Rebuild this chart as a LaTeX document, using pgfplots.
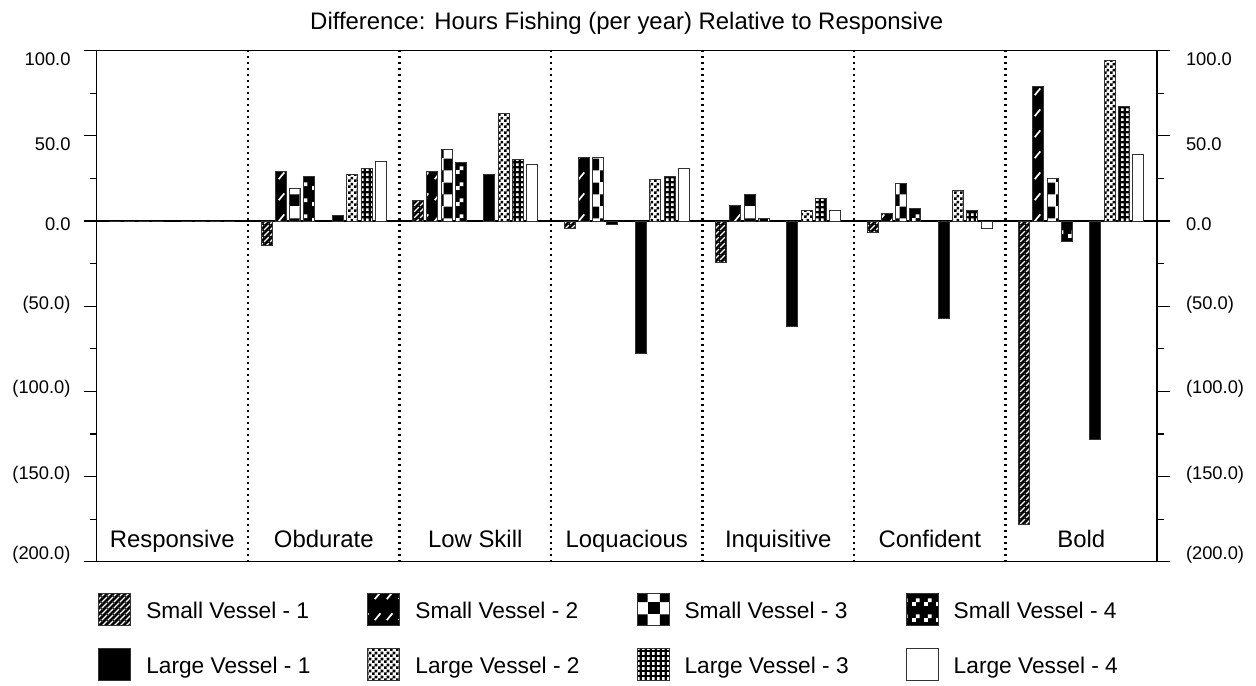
\documentclass[border=0pt]{standalone}
\usepackage{fontspec}
\setmainfont{Liberation Sans}
\usepackage{pgfplots}
\pgfplotsset{compat=1.18}
\usetikzlibrary{patterns}

\pgfdeclarepatternformonly{svone}{\pgfqpoint{0bp}{0bp}}{\pgfqpoint{3bp}{3bp}}{\pgfqpoint{3bp}{3bp}}{%
  \pgfpathmoveto{\pgfqpoint{0bp}{0bp}}\pgfpathlineto{\pgfqpoint{0.45bp}{0bp}}\pgfpathlineto{\pgfqpoint{3bp}{2.55bp}}%
  \pgfpathlineto{\pgfqpoint{3bp}{3bp}}\pgfpathlineto{\pgfqpoint{2.55bp}{3bp}}\pgfpathlineto{\pgfqpoint{0bp}{0.45bp}}\pgfpathclose
  \pgfpathmoveto{\pgfqpoint{2.55bp}{0bp}}\pgfpathlineto{\pgfqpoint{3bp}{0bp}}\pgfpathlineto{\pgfqpoint{3bp}{0.45bp}}\pgfpathclose
  \pgfpathmoveto{\pgfqpoint{0bp}{2.55bp}}\pgfpathlineto{\pgfqpoint{0bp}{3bp}}\pgfpathlineto{\pgfqpoint{0.45bp}{3bp}}\pgfpathclose
  \pgfusepath{fill}}
\pgfdeclarepatternformonly{svtwo}{\pgfqpoint{0bp}{0bp}}{\pgfqpoint{6bp}{10.5bp}}{\pgfqpoint{6bp}{10.5bp}}{\pgfsetlinewidth{0.9bp}\pgfpathmoveto{\pgfqpoint{1.5bp}{1.5bp}}\pgfpathlineto{\pgfqpoint{4.5bp}{5bp}}\pgfusepath{stroke}}
\pgfdeclarepatternformonly{svthree}{\pgfqpoint{0bp}{0bp}}{\pgfqpoint{12bp}{12bp}}{\pgfqpoint{12bp}{12bp}}{\pgfpathrectangle{\pgfqpoint{0bp}{0bp}}{\pgfqpoint{6bp}{6bp}}\pgfpathrectangle{\pgfqpoint{6bp}{6bp}}{\pgfqpoint{6bp}{6bp}}\pgfusepath{fill}}
\pgfdeclarepatternformonly{svfour}{\pgfqpoint{0bp}{0bp}}{\pgfqpoint{6bp}{8bp}}{\pgfqpoint{6bp}{8bp}}{\pgfpathrectangle{\pgfqpoint{0bp}{0bp}}{\pgfqpoint{2bp}{2bp}}\pgfpathrectangle{\pgfqpoint{2bp}{2bp}}{\pgfqpoint{2bp}{2bp}}\pgfusepath{fill}}
\pgfdeclarepatternformonly{lvtwo}{\pgfqpoint{0bp}{0bp}}{\pgfqpoint{3bp}{3bp}}{\pgfqpoint{3bp}{3bp}}{\pgfpathrectangle{\pgfqpoint{0bp}{0bp}}{\pgfqpoint{1.5bp}{1.5bp}}\pgfpathrectangle{\pgfqpoint{1.5bp}{1.5bp}}{\pgfqpoint{1.5bp}{1.5bp}}\pgfusepath{fill}}
\pgfdeclarepatternformonly{lvthree}{\pgfqpoint{0bp}{0bp}}{\pgfqpoint{2.7bp}{2.7bp}}{\pgfqpoint{2.7bp}{2.7bp}}{\pgfpathrectangle{\pgfqpoint{0.65bp}{0.65bp}}{\pgfqpoint{1.4bp}{1.4bp}}\pgfusepath{fill}}

\pgfplotstableread{
x sva svb svc svd lva lvb lvc lvd
0 0 0 0 0 0 0 0 0
1 -14.5 29.0 19.0 26.0 3.2 27.2 30.9 34.8
2 12.3 29.2 42.1 34.3 27.2 63.2 36.2 33.0
3 -4.3 37.1 37.1 -2.3 -77.5 24.2 26.2 30.9
4 -24.2 9.2 15.3 1.2 -62.2 6.0 13.2 6.0
5 -6.5 4.3 22.1 7.2 -57.4 18.0 6.3 -4.3
6 -178.4 79.0 25.2 -12.0 -128.3 94.1 67.1 39.1
}\datatable

\pgfplotsset{
  mybar/.style={ybar, bar width=5.5bp, bar shift=#1, draw=black!80, line width=0.5bp,
    legend image code/.code={\draw[##1] (0bp,-6.9bp) rectangle (16bp,9.1bp);}},
  yaxcommon/.style={
    xmin=-0.5, xmax=6.5, ymin=-200, ymax=100,
    ytick={-200,-150,...,100}, yticklabels={},
    minor ytick={-175,-125,...,75},
    extra y ticks={-196,-149.1,-98.6,-49.3,-1.8,45.2,95.0},
    extra y tick labels={(200.0),(150.0),(100.0),(50.0),0.0,50.0,100.0},
    extra y tick style={tick style={draw=none}},
    ytick align=outside,
    major tick length=6.3bp, minor tick length=3.3bp,
    tick style={black, line width=0.6bp},
  },
}

\begin{document}
\begin{tikzpicture}
\begin{axis}[
  at={(48.25bp,62.15bp)}, anchor=south west, scale only axis,
  width=530.25bp, height=255.5bp,
  yaxcommon, ytick pos=left,
  yticklabel style={font=\fontsize{9.2}{11}\selectfont, inner xsep=6.5bp},
  xtick={0,...,6},
  xticklabels={Responsive,Obdurate,Low Skill,Loquacious,Inquisitive,Confident,Bold},
  xtick style={draw=none},
  xticklabel style={anchor=base, yshift=7.3bp, font=\fontsize{12}{14}\selectfont},
  extra x ticks={0.5,1.5,2.5,3.5,4.5,5.5}, extra x tick labels={},
  extra x tick style={grid=major, major grid style={black, line width=1.1bp, dash pattern=on 1.1bp off 1.9bp}},
  axis line style={black, line width=0.6bp},
  title={Difference: Hours Fishing (per year) Relative to Responsive},
  title style={at={(0.5,1)}, anchor=base, yshift=4.5bp, font=\fontsize{12}{14}\selectfont},
  legend columns=4,
  legend style={at={(0.0017,-0.0613)}, anchor=north west, draw=none, fill=none,
    inner sep=0pt, outer sep=0pt, font=\fontsize{11.4}{13}\selectfont,
    row sep=11bp, column sep=0pt, nodes={inner sep=0pt},
    legend cell align=left,
    /tikz/every odd column/.append style={column sep=7.5bp},
    /tikz/every even column/.append style={column sep=28.5bp}},
]
\draw[black, line width=0.8bp] (axis cs:-0.5,0) -- (axis cs:6.5,0);
\addplot[mybar=-28.5bp, preaction={fill=black}, pattern=svone, pattern color=white] table[x=x,y=sva]{\datatable};
\addlegendentry{Small Vessel - 1}
\addplot[mybar=-21.375bp, preaction={fill=black}, pattern=svtwo, pattern color=white] table[x=x,y=svb]{\datatable};
\addlegendentry{Small Vessel - 2}
\addplot[mybar=-14.25bp, preaction={fill=white}, pattern=svthree, pattern color=black] table[x=x,y=svc]{\datatable};
\addlegendentry{Small Vessel - 3}
\addplot[mybar=-7.125bp, preaction={fill=black}, pattern=svfour, pattern color=white] table[x=x,y=svd]{\datatable};
\addlegendentry{Small Vessel - 4}
\addplot[mybar=7.125bp, fill=black] table[x=x,y=lva]{\datatable};
\addlegendentry{Large Vessel - 1}
\addplot[mybar=14.25bp, preaction={fill=white}, pattern=lvtwo, pattern color=black] table[x=x,y=lvb]{\datatable};
\addlegendentry{Large Vessel - 2}
\addplot[mybar=21.375bp, preaction={fill=black}, pattern=lvthree, pattern color=white] table[x=x,y=lvc]{\datatable};
\addlegendentry{Large Vessel - 3}
\addplot[mybar=28.5bp, fill=white] table[x=x,y=lvd]{\datatable};
\addlegendentry{Large Vessel - 4}
\end{axis}
\begin{axis}[
  at={(48.25bp,62.15bp)}, anchor=south west, scale only axis,
  width=530.25bp, height=255.5bp,
  yaxcommon,
  axis line style={draw=none}, xtick=\empty,
  ytick pos=right, yticklabel pos=right,
  yticklabel style={font=\fontsize{9.2}{11}\selectfont, inner xsep=8bp},
]
\end{axis}
\pgfresetboundingbox
\path[use as bounding box] (0,0) rectangle (628bp,343bp);
\end{tikzpicture}
\end{document}
